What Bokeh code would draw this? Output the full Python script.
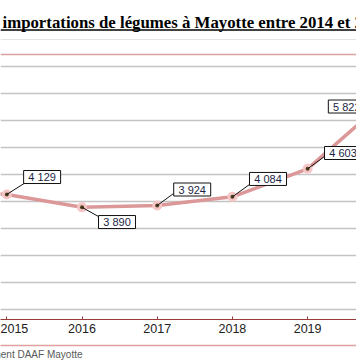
from bokeh.plotting import figure
from bokeh.models import Range1d, FixedTicker, Grid, Span, Label, LinearAxis, Title
from bokeh.embed import file_html
from bokeh.resources import INLINE

# ---- data ----
years = [2014, 2015, 2016, 2017, 2018, 2019, 2020]
year_labels = ["2014", "2015", "2016", "2017", "2018", "2019", "2020"]
imports_t = [4200, 4129, 3890, 3924, 4084, 4603, 5822]
value_labels = ["4 200", "4 129", "3 890", "3 924", "4 084", "4 603", "5 822"]
grid_values = [1500, 2000, 2500, 3000, 3500, 4000, 4500, 5000, 5500, 6000, 6500]
title_text = "importations de légumes à Mayotte entre 2014 et 2020"
source_text = "Source : Douanes, traitement DAAF Mayotte"

# ---- style / geometry ----
W, H = 356, 364
BOTTOM = 45
FRAME_H = H - BOTTOM        # frame spans canvas rows 0..319
PX_PER_YEAR = 75.2          # horizontal pixels per category
UNITS_PER_PX = 18.5         # tonnes per vertical pixel
# label box centre offsets (px, y down) and leader end offsets (2015..2020)
box_dx = [35.3, 35.0, 35.0, 35.6, 35.4, -36.0]
box_dy = [-17.4, 14.7, -16.0, -17.9, -15.8, 3.6]
lead_dx = [17.2, 16.5, 16.3, 17.1, 16.9, 0.0]
lead_dy = [-10.9, 9.2, -12.0, -12.4, -12.3, 0.0]

p = figure(width=W, height=H, output_backend="svg", toolbar_location=None,
           x_range=Range1d(2014.916, 2019.650), y_range=Range1d(1815, 7717),
           y_axis_location=None, min_border_left=0, min_border_right=0,
           min_border_top=0, min_border_bottom=BOTTOM,
           background_fill_color="white", border_fill_color="white",
           outline_line_color=None)

p.xgrid.visible = False
p.add_layout(Grid(dimension=1, ticker=FixedTicker(ticks=grid_values),
                  grid_line_color="#c4c4c4", grid_line_width=1.3))

ax = p.xaxis[0]
ax.ticker = FixedTicker(ticks=years)
ax.major_label_overrides = {y: l for y, l in zip(years, year_labels)}
ax.axis_line_color = "#9a3b3b"
ax.axis_line_width = 1.2
ax.major_tick_in = 3
ax.major_tick_out = 0
ax.major_tick_line_color = "#9a3b3b"
ax.minor_tick_line_color = None
ax.major_label_standoff = 4
ax.major_label_text_font = "Liberation Sans"
ax.major_label_text_font_size = "12.5px"
ax.major_label_text_color = "#222222"
ax.axis_label = " "
ax.axis_label_text_font_size = "1px"
ax.axis_label_standoff = 6

# second, empty axis: draws the lower border line of the chart block
ax2 = LinearAxis(ticker=FixedTicker(ticks=[]), axis_line_color="#dfa0a0",
                 axis_line_width=1.3, major_tick_line_color=None,
                 minor_tick_line_color=None)
p.add_layout(ax2, "below")

# source note under the chart
p.add_layout(Title(text=source_text, align="right", offset=W - 82,
                   text_font="Liberation Sans", text_font_size="10px",
                   text_font_style="normal", text_color="#595959", standoff=2), "below")

# line and markers
p.line(years, imports_t, line_color="#dc9898", line_width=3.5)
p.scatter(years, imports_t, size=10, fill_color="#f6c6c6", line_color=None)
p.scatter(years, imports_t, size=4, fill_color="#4e3f1e", line_color=None)

# data labels (2015 onwards are in view)
ly_years = years[1:]
ly_vals = imports_t[1:]
cx = [y + dx / PX_PER_YEAR for y, dx in zip(ly_years, box_dx)]
cy = [v - dy * UNITS_PER_PX for v, dy in zip(ly_vals, box_dy)]
lx = [y + dx / PX_PER_YEAR for y, dx in zip(ly_years, lead_dx)]
ly = [v - dy * UNITS_PER_PX for v, dy in zip(ly_vals, lead_dy)]
p.segment(x0=ly_years, y0=ly_vals, x1=lx, y1=ly, line_color="#111111", line_width=1)
p.rect(x=cx, y=cy, width=37, height=13, width_units="screen", height_units="screen",
       fill_color="white", line_color="#111111", line_width=1)
p.text(x=cx, y=cy, text=value_labels[1:], text_align="center", text_baseline="middle",
       text_font={"value": "Liberation Sans"}, text_font_size="11px",
       text_color="#1b1f45")

# chart block top border and title underline (inside the frame's upper margin)
p.add_layout(Span(location=FRAME_H - 54, location_units="screen", dimension="width",
                  line_color="#d9a3a3", line_width=1.5))
p.add_layout(Span(location=FRAME_H - 29.5, location_units="screen", dimension="width",
                  line_color="black", line_width=1.6))
p.add_layout(Label(x=2, y=FRAME_H - 22, x_units="screen", y_units="screen",
                   text=title_text, text_font="Liberation Serif", text_font_style="bold",
                   text_font_size="16.8px", text_color="black", text_baseline="alphabetic"))

open("out.html", "w").write(file_html(p, INLINE))
